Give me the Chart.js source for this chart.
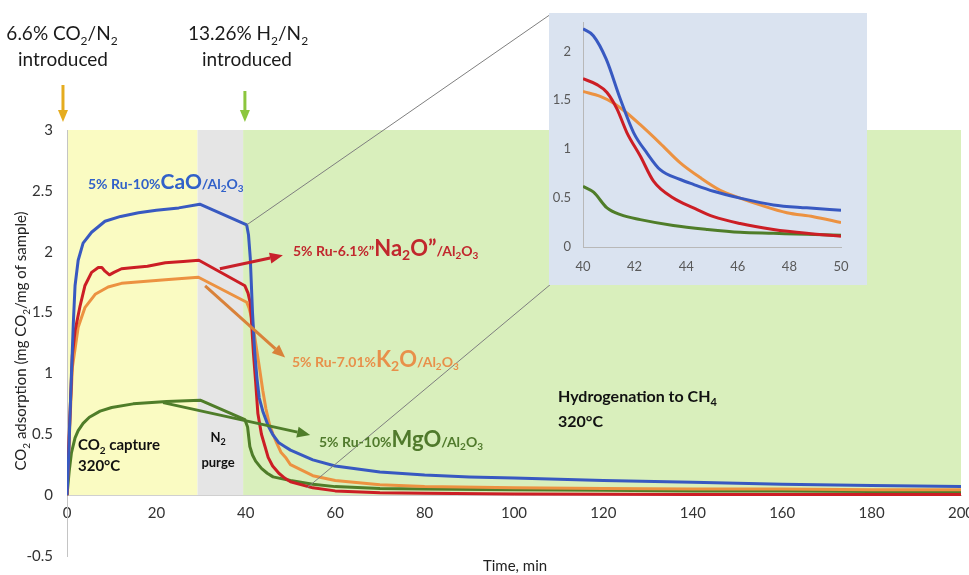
<!DOCTYPE html>
<html><head><meta charset="utf-8">
<script src="https://cdn.jsdelivr.net/npm/chart.js@4.4.1/dist/chart.umd.min.js"></script>
<style>
html,body{margin:0;padding:0;background:#fff;}
#wrap{position:relative;width:969px;height:575px;overflow:hidden;}
#main{position:absolute;left:0;top:0;}
#inset{position:absolute;left:549px;top:13px;}
</style></head><body>
<div id="wrap">
<canvas id="main" width="969" height="575"></canvas>
<canvas id="inset" width="318" height="272"></canvas>
</div>
<script>
// ---------- data ----------
const xTicksStep = 20;
const yTickValues = [-0.5, 0, 0.5, 1, 1.5, 2, 2.5, 3];
const insetYTickValues = [0, 0.5, 1, 1.5, 2];
const phaseStart = [0, 29.2, 39.4];
const phaseEnd   = [29.2, 39.4, 200];

const caoTime   = [0,0.3,0.9,1.4,1.8,2.5,3.6,5.5,8.5,12,16,20,25,29.7,40.2,40.6,41,41.5,42,42.5,43,43.8,45,46,47.4,48.7,50,55,60,70,80,90,100,120,140,160,180,200];
const caoValues = [0,0.25,0.9,1.4,1.72,1.93,2.07,2.16,2.25,2.29,2.32,2.34,2.36,2.39,2.22,2.14,1.95,1.5,1.17,0.96,0.8,0.69,0.57,0.5,0.43,0.4,0.37,0.29,0.24,0.19,0.165,0.15,0.14,0.12,0.105,0.09,0.08,0.07];

const na2oTime   = [0,0.6,1.2,1.8,2.9,4,5.5,7,7.8,8.5,9.5,10.5,12.2,15,18,22,26,29.5,39.8,40.5,41,41.3,41.7,42.2,42.7,43.5,44.3,45,46,47.4,48.7,50,55,60,70,80,100,120,140,160,180,200];
const na2oValues = [0,0.6,1.15,1.35,1.55,1.72,1.83,1.87,1.87,1.84,1.81,1.83,1.86,1.87,1.88,1.91,1.92,1.93,1.72,1.66,1.58,1.41,1.17,0.93,0.67,0.5,0.4,0.31,0.24,0.18,0.14,0.11,0.06,0.035,0.02,0.015,0.01,0.008,0.006,0.005,0.005,0.005];

const k2oTime   = [0,0.6,1.2,1.8,2.5,4,6.3,9.2,12.2,15,22,29.4,40.2,40.7,41.2,41.7,42.2,43,43.8,44.5,45.3,46.1,46.9,47.9,48.9,50,55,60,70,80,100,120,140,160,180,200];
const k2oValues = [0,0.55,1.05,1.2,1.38,1.54,1.65,1.71,1.74,1.75,1.77,1.79,1.585,1.54,1.47,1.37,1.25,1.06,0.86,0.71,0.58,0.5,0.43,0.35,0.31,0.25,0.16,0.12,0.085,0.07,0.06,0.055,0.05,0.05,0.045,0.045];

const mgoTime   = [0,0.5,1,1.8,2.5,3.6,5,7.4,10,14.8,22.3,29.8,39.8,40.4,40.9,41.5,42.2,43.5,44.8,46.1,47.4,48.7,50,55,60,70,80,100,120,140,160,180,200];
const mgoValues = [0,0.2,0.35,0.47,0.53,0.59,0.64,0.69,0.72,0.75,0.77,0.78,0.62,0.56,0.4,0.33,0.28,0.22,0.18,0.15,0.14,0.13,0.12,0.09,0.07,0.055,0.05,0.045,0.04,0.035,0.035,0.03,0.03];

// inset (zoom 40-50 min)
const insetCaoTime    = [40,40.4,40.9,41.45,41.96,42.48,42.99,43.77,44.28,45.06,46.09,47.38,48.67,50];
const insetCaoValues  = [2.23,2.16,1.92,1.51,1.17,0.96,0.79,0.69,0.64,0.57,0.5,0.43,0.4,0.375];
const insetNa2oTime   = [40,40.54,40.93,41.32,41.7,42.22,42.74,43.5,44.28,45.06,46.09,47.38,48.67,50];
const insetNa2oValues = [1.72,1.66,1.58,1.41,1.17,0.93,0.67,0.5,0.4,0.31,0.24,0.18,0.14,0.11];
const insetK2oTime    = [40,40.67,41.19,41.7,42.22,42.99,43.77,44.54,45.32,46.09,46.86,47.9,48.93,50];
const insetK2oValues  = [1.59,1.54,1.47,1.37,1.25,1.06,0.86,0.71,0.58,0.5,0.43,0.35,0.31,0.25];
const insetMgoTime    = [40,40.41,40.93,41.45,42.22,43.5,44.8,46.09,47.38,48.67,50];
const insetMgoValues  = [0.62,0.56,0.4,0.33,0.28,0.22,0.18,0.15,0.14,0.13,0.12];

// ---------- styles ----------
const C_BLUE='#3859c1', C_RED='#cc1e25', C_ORANGE='#ec9241', C_GREEN='#4f7d29';
const FONT='Lato';
const pts=(t,v)=>t.map((x,i)=>({x:x,y:v[i]}));
const fmt=v=>String(Math.round(v*100)/100);

function rich(ctx,x,y,segs,align,color){
  let w=0;
  for(const s of segs){ctx.font=`${s[2]||'normal'} ${s[1]}px ${FONT}`; w+=ctx.measureText(s[0]).width;}
  let cx = align==='center'? x-w/2 : (align==='right'? x-w : x);
  ctx.textAlign='left'; ctx.textBaseline='alphabetic'; ctx.fillStyle=color;
  for(const s of segs){ctx.font=`${s[2]||'normal'} ${s[1]}px ${FONT}`; ctx.fillText(s[0],cx,y+(s[3]||0)); cx+=ctx.measureText(s[0]).width;}
  return w;
}
function arrow(ctx,x1,y1,x2,y2,color,lw,hl,hw){
  const a=Math.atan2(y2-y1,x2-x1);
  const bx=x2-hl*Math.cos(a), by=y2-hl*Math.sin(a);
  ctx.strokeStyle=color; ctx.lineWidth=lw; ctx.lineCap='butt';
  ctx.beginPath(); ctx.moveTo(x1,y1); ctx.lineTo(bx,by); ctx.stroke();
  ctx.fillStyle=color; ctx.beginPath(); ctx.moveTo(x2,y2);
  ctx.lineTo(bx+hw/2*Math.sin(a), by-hw/2*Math.cos(a));
  ctx.lineTo(bx-hw/2*Math.sin(a), by+hw/2*Math.cos(a)); ctx.closePath(); ctx.fill();
}

const phasePlugin={
  id:'phases',
  beforeDraw(chart){
    const {ctx,scales:{x,y}}=chart;
    const cols=['#fafbc2','#e5e5e5','#d9efbc'];
    ctx.save();
    for(let i=0;i<phaseStart.length;i++){
      const x0=x.getPixelForValue(phaseStart[i]), x1=x.getPixelForValue(phaseEnd[i]);
      const y0=y.getPixelForValue(3), y1=y.getPixelForValue(0);
      ctx.fillStyle=cols[i]; ctx.fillRect(x0,y0,x1-x0,y1-y0);
    }
    ctx.restore();
  }
};

const annotPlugin={
  id:'annot',
  afterDraw(chart){
    const {ctx,scales:{x,y}}=chart;
    const X=v=>x.getPixelForValue(v), Y=v=>y.getPixelForValue(v);
    ctx.save();
    // leader lines to inset
    ctx.strokeStyle='#7f7f7f'; ctx.lineWidth=1;
    ctx.beginPath(); ctx.moveTo(X(40.2),Y(2.22)); ctx.lineTo(551,14); ctx.stroke();
    ctx.beginPath(); ctx.moveTo(X(53.7),Y(0.06)); ctx.lineTo(551,284); ctx.stroke();
    // top gas annotations
    const txt='#1a1a1a';
    rich(ctx,62,40,[['6.6% CO',19],['2',12,'normal',5],['/N',19],['2',12,'normal',5]],'center',txt);
    rich(ctx,63,66,[['introduced',19]],'center',txt);
    rich(ctx,248,40,[['13.26% H',19],['2',12,'normal',5],['/N',19],['2',12,'normal',5]],'center',txt);
    rich(ctx,247,66,[['introduced',19]],'center',txt);
    arrow(ctx,X(-0.9),85,X(-0.9),122,'#e5ac1f',3,12,10);
    arrow(ctx,X(39.8),91,X(39.8),122,'#8cc63e',3,12,10);
    // phase texts
    rich(ctx,78,450,[['CO',15,'bold'],['2',10,'bold',4],[' capture',15,'bold']],'left','#111');
    rich(ctx,78,471,[['320°C',15,'bold']],'left','#111');
    rich(ctx,218,442,[['N',13,'bold'],['2',9,'bold',3]],'center','#111');
    rich(ctx,218,467,[['purge',13,'bold']],'center','#111');
    rich(ctx,558,402,[['Hydrogenation to CH',16,'bold'],['4',11,'bold',4]],'left','#111');
    rich(ctx,558,427,[['320°C',16,'bold']],'left','#111');
    // series labels
    rich(ctx,88,189,[['5% Ru-10%',14,'bold'],['CaO',21,'bold'],['/Al',14,'bold'],['2',10,'bold',3],['O',14,'bold'],['3',10,'bold',3]],'left','#3161c9');
    rich(ctx,293,256,[['5% Ru-6.1%\u201D',14,'bold'],['Na',22,'bold'],['2',14,'bold',4],['O\u201D',22,'bold'],['/Al',14,'bold'],['2',10,'bold',3],['O',14,'bold'],['3',10,'bold',3]],'left','#c1272d');
    rich(ctx,292,367,[['5% Ru-7.01%',14,'bold'],['K',22,'bold'],['2',14,'bold',4],['O',22,'bold'],['/Al',14,'bold'],['2',10,'bold',3],['O',14,'bold'],['3',10,'bold',3]],'left','#e8904a');
    rich(ctx,319,447,[['5% Ru-10%',14,'bold'],['MgO',22,'bold'],['/Al',14,'bold'],['2',10,'bold',3],['O',14,'bold'],['3',10,'bold',3]],'left','#507a2c');
    // pointer arrows
    arrow(ctx,X(34.2),Y(1.86),X(48.3),Y(1.97),'#c8202a',3,13,11);
    arrow(ctx,X(30.9),Y(1.72),X(48.8),Y(1.13),'#d9823a',3,13,11);
    arrow(ctx,X(21.5),Y(0.76),X(54.4),Y(0.495),'#4f7d2a',3,13,11);
    // axis titles
    rich(ctx,515,571,[['Time, min',15]],'center','#222');
    ctx.translate(20,341); ctx.rotate(-Math.PI/2);
    rich(ctx,0,6,[['CO',15],['2',10,'normal',4],[' adsorption (mg CO',15],['2',10,'normal',4],['/mg of sample)',15]],'center','#222');
    ctx.restore();
  }
};

const tickFont={family:FONT,size:15};
new Chart(document.getElementById('main'),{
  type:'line',
  data:{datasets:[
    {data:pts(caoTime,caoValues),borderColor:C_BLUE},
    {data:pts(na2oTime,na2oValues),borderColor:C_RED},
    {data:pts(k2oTime,k2oValues),borderColor:C_ORANGE},
    {data:pts(mgoTime,mgoValues),borderColor:C_GREEN}
  ]},
  options:{
    responsive:false, animation:false, devicePixelRatio:1,
    layout:{padding:{left:0,right:8,top:130,bottom:19}},
    plugins:{legend:{display:false},tooltip:{enabled:false}},
    elements:{point:{radius:0},line:{borderWidth:3,tension:0,borderJoinStyle:'round'}},
    scales:{
      x:{type:'linear',min:0,max:200,position:{y:0},
         grid:{display:false,drawTicks:false},border:{display:true,color:'#d0d0d0'},
         ticks:{stepSize:xTicksStep,color:'#333',font:tickFont,padding:9,maxRotation:0,autoSkip:false},
         afterFit(s){s.paddingLeft=0;s.paddingRight=0;s.paddingTop=0;s.paddingBottom=0;}},
      y:{type:'linear',min:-0.5,max:3,
         grid:{display:false,drawTicks:false},border:{display:true,color:'#c4c4c4'},
         afterBuildTicks(s){s.ticks=yTickValues.map(v=>({value:v}));},
         ticks:{color:'#333',font:tickFont,padding:14,callback:fmt},
         afterFit(s){s.width=67;s.paddingTop=0;s.paddingBottom=0;}}
    }
  },
  plugins:[phasePlugin,annotPlugin]
});

const insetBg={id:'insetBg',beforeDraw(chart){const c=chart.ctx;c.save();c.fillStyle='#dae3f0';c.fillRect(0,0,chart.width,chart.height);c.restore();}};
const insetFont={family:FONT,size:13};
new Chart(document.getElementById('inset'),{
  type:'line',
  data:{datasets:[
    {data:pts(insetCaoTime,insetCaoValues),borderColor:C_BLUE},
    {data:pts(insetNa2oTime,insetNa2oValues),borderColor:C_RED},
    {data:pts(insetK2oTime,insetK2oValues),borderColor:C_ORANGE},
    {data:pts(insetMgoTime,insetMgoValues),borderColor:C_GREEN}
  ]},
  options:{
    responsive:false, animation:false, devicePixelRatio:1,
    layout:{padding:{left:0,right:26,top:9,bottom:0}},
    plugins:{legend:{display:false},tooltip:{enabled:false}},
    elements:{point:{radius:0},line:{borderWidth:3,cubicInterpolationMode:'monotone',borderJoinStyle:'round'}},
    scales:{
      x:{type:'linear',min:40,max:50,
         grid:{display:false,drawTicks:false},border:{display:true,color:'#b8b8b8'},
         ticks:{stepSize:2,color:'#595959',font:insetFont,padding:12,maxRotation:0},
         afterFit(s){s.height=38;s.paddingLeft=0;s.paddingRight=0;}},
      y:{type:'linear',min:0,max:2.3,
         grid:{display:false,drawTicks:false},border:{display:true,color:'#b8b8b8'},
         afterBuildTicks(s){s.ticks=insetYTickValues.map(v=>({value:v}));},
         ticks:{color:'#595959',font:insetFont,padding:12,callback:fmt},
         afterFit(s){s.width=34;s.paddingTop=0;s.paddingBottom=0;}}
    }
  },
  plugins:[insetBg]
});
</script>
</body></html>
